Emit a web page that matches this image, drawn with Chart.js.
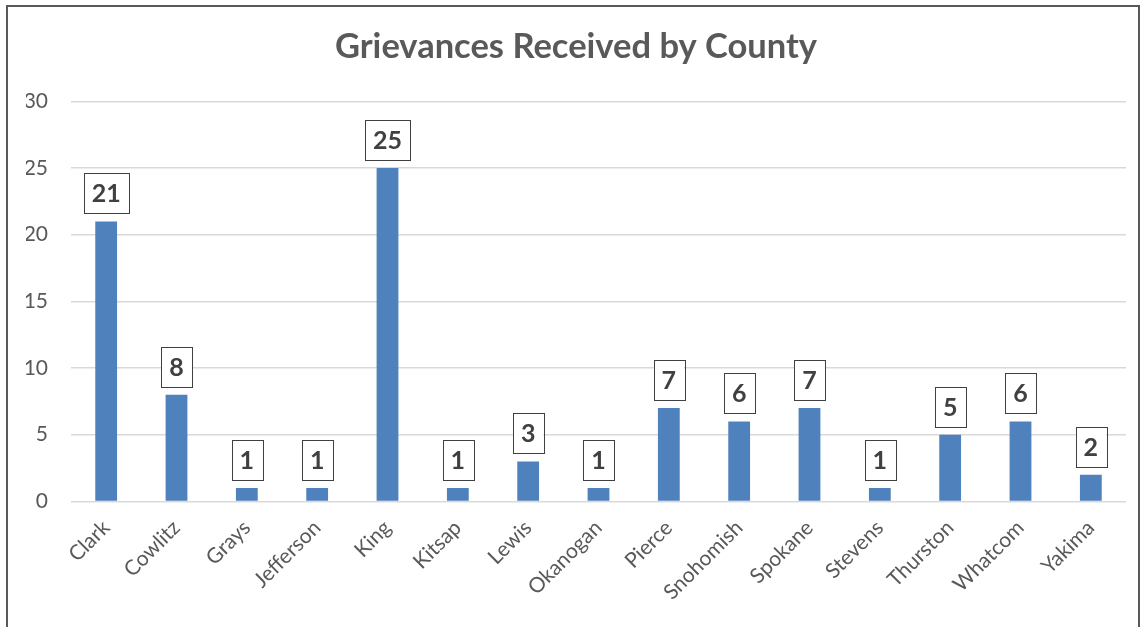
<!DOCTYPE html>
<html>
<head>
<meta charset="utf-8">
<script src="https://cdn.jsdelivr.net/npm/chart.js@4"></script>
<style>
  body { margin: 0; background: #fff; }
  #frame { position: absolute; left: 6px; top: 5px; width: 1134px; height: 640px; border: 2px solid #595959; box-sizing: border-box; }
  #wrap { position: absolute; left: 0; top: 0; width: 1143px; height: 627px; }
</style>
</head>
<body>
<div id="frame"></div>
<div id="wrap"><canvas id="county-chart"></canvas></div>
<script>
const counties = ["Clark", "Cowlitz", "Grays", "Jefferson", "King", "Kitsap", "Lewis", "Okanogan",
  "Pierce", "Snohomish", "Spokane", "Stevens", "Thurston", "Whatcom", "Yakima"];
const grievances = [21, 8, 1, 1, 25, 1, 3, 1, 7, 6, 7, 1, 5, 6, 2];
const yTicks = [0, 5, 10, 15, 20, 25, 30];

const fontFamily = "Lato, 'Open Sans', sans-serif";

// boxed value labels above each bar
const boxedLabels = {
  id: "boxedLabels",
  afterDatasetsDraw(chart) {
    const ctx = chart.ctx;
    const meta = chart.getDatasetMeta(0);
    ctx.save();
    ctx.font = "bold 25px " + fontFamily;
    ctx.textAlign = "center";
    ctx.textBaseline = "middle";
    meta.data.forEach((bar, i) => {
      const txt = String(grievances[i]);
      const w = ctx.measureText(txt).width + 16;
      const h = 40;
      const x = bar.x - w / 2;
      const y = bar.y - 8 - h;
      ctx.fillStyle = "#fff";
      ctx.fillRect(x, y, w, h);
      ctx.strokeStyle = "#404040";
      ctx.lineWidth = 1;
      ctx.strokeRect(Math.round(x) + 0.5, Math.round(y) + 0.5, Math.round(w), h);
      ctx.fillStyle = "#404040";
      ctx.fillText(txt, bar.x, y + h / 2 + 1);
    });
    ctx.restore();
  }
};

const config = {
  type: "bar",
  data: {
    labels: counties,
    datasets: [{
      label: "Grievances",
      data: grievances,
      backgroundColor: "#4f81bd",
      borderWidth: 0,
      barPercentage: 0.31,
      categoryPercentage: 1.0,
    }],
  },
  options: {
    responsive: true,
    maintainAspectRatio: false,
    animation: false,
    layout: { padding: { left: 26, right: 17, top: 10, bottom: 16 } },
    plugins: {
      legend: { display: false },
      tooltip: { enabled: false },
      title: {
        display: true,
        text: "Grievances Received by County",
        color: "#595959",
        font: { family: fontFamily, size: 34.5, weight: "bold" },
        padding: { top: 16, bottom: 34 },
      },
    },
    scales: {
      x: {
        grid: { display: false },
        border: { display: false },
        // rotated first label shouldn't push the plot area right
        afterFit(scale) { scale.paddingLeft = 0; },
        ticks: {
          color: "#595959",
          font: { family: fontFamily, size: 21 },
          maxRotation: 45,
          minRotation: 45,
          padding: 6,
        },
      },
      y: {
        min: 0,
        max: 30,
        afterBuildTicks(axis) { axis.ticks = yTicks.map(v => ({ value: v })); },
        afterFit(scale) { scale.width = 45; },
        grid: { color: "#d9d9d9", lineWidth: 1.5, drawTicks: false },
        border: { display: false },
        ticks: {
          color: "#595959",
          font: { family: fontFamily, size: 21 },
          padding: 23,
        },
      },
    },
  },
  plugins: [boxedLabels],
};

var ctx_county = document.getElementById("county-chart").getContext("2d");
var countyChart = new Chart(ctx_county, config);
</script>
</body>
</html>
